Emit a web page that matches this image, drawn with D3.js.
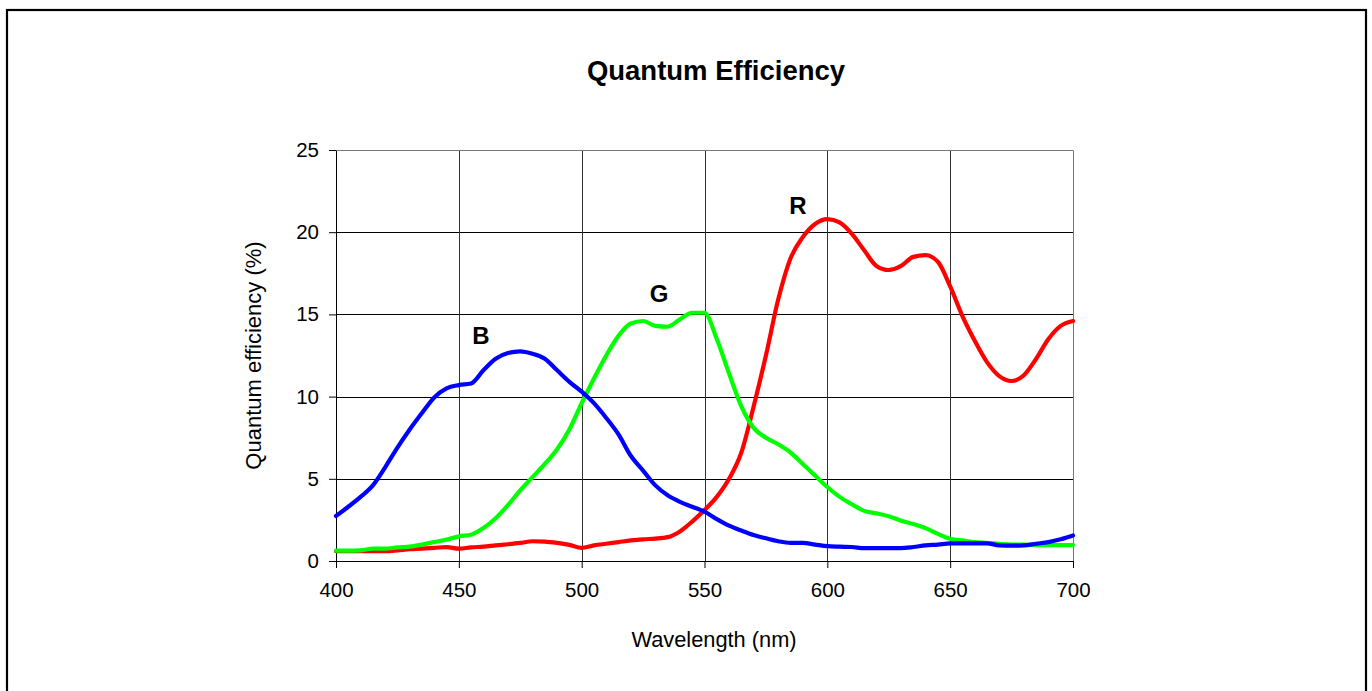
<!DOCTYPE html>
<html>
<head>
<meta charset="utf-8">
<script src="https://cdn.jsdelivr.net/npm/d3@7"></script>
<style>
  body { margin: 0; background: #fff; }
  text { font-family: "Liberation Sans", Arial, sans-serif; fill: #000; }
</style>
</head>
<body>
<div id="chart"></div>
<script>
// wavelength steps (nm)
var wavelengths = d3.range(400, 701, 5);

// quantum efficiency (%) per channel
var blueQE = [2.74, 3.3, 3.9, 4.6, 5.7, 6.9, 8.0, 9.0, 9.95, 10.5,
    10.7, 10.8, 11.6, 12.3, 12.65, 12.75, 12.6, 12.3, 11.6, 10.9,
    10.3, 9.6, 8.7, 7.7, 6.4, 5.5, 4.6, 4.0, 3.6, 3.3,
    3.0, 2.55, 2.15, 1.85, 1.58, 1.38, 1.2, 1.1, 1.1, 1.0,
    0.9, 0.87, 0.85, 0.78, 0.78, 0.78, 0.78, 0.85, 0.95, 1.0,
    1.07, 1.07, 1.07, 1.07, 0.95, 0.93, 0.95, 1.05, 1.15, 1.32, 1.55];

var greenQE = [0.63, 0.63, 0.65, 0.75, 0.75, 0.83, 0.87, 1.0, 1.15, 1.3,
    1.5, 1.6, 2.0, 2.6, 3.4, 4.3, 5.1, 5.9, 6.8, 8.0,
    9.6, 11.1, 12.5, 13.7, 14.45, 14.6, 14.3, 14.25, 14.7, 15.1,
    15.1, 13.5, 11.4, 9.4, 8.1, 7.5, 7.1, 6.6, 5.9, 5.2,
    4.5, 3.9, 3.45, 3.05, 2.9, 2.72, 2.45, 2.25, 2.0, 1.65,
    1.35, 1.25, 1.15, 1.1, 1.05, 1.0, 1.0, 0.97, 0.97, 0.97, 0.97];

var redQE = [0.6, 0.6, 0.6, 0.6, 0.6, 0.65, 0.72, 0.75, 0.8, 0.85,
    0.75, 0.83, 0.87, 0.95, 1.02, 1.1, 1.2, 1.18, 1.1, 0.98,
    0.8, 0.95, 1.05, 1.15, 1.25, 1.32, 1.36, 1.45, 1.8, 2.4,
    3.1, 3.9, 5.0, 6.6, 9.4, 12.5, 15.9, 18.4, 19.7, 20.5,
    20.8, 20.6, 19.9, 18.9, 17.95, 17.7, 17.95, 18.5, 18.6, 18.2,
    16.7, 14.9, 13.4, 12.1, 11.25, 10.95, 11.3, 12.3, 13.5, 14.3, 14.6];

// tick labels
var xTicks = [400, 450, 500, 550, 600, 650, 700];
var yTicks = [0, 5, 10, 15, 20, 25];

// series letters placed in data units
var labelNames = ["B", "G", "R"];
var labelWl = [459, 531.5, 588];
var labelQE = [13.2, 15.75, 21.1];

var svgWidth = 1372;
var svgHeight = 691;

var margin = { top: 150, left: 336, right: 299, bottom: 130 };
var width = svgWidth - margin.left - margin.right;
var height = svgHeight - margin.top - margin.bottom;

var svg = d3.select("#chart")
    .append("svg")
    .attr("width", svgWidth)
    .attr("height", svgHeight);

// outer frame
svg.append("rect")
    .attr("x", 7)
    .attr("y", 10)
    .attr("width", 1359)
    .attr("height", 720)
    .attr("fill", "none")
    .attr("stroke", "#000")
    .attr("stroke-width", 2.2);

var chartGroup = svg.append("g")
    .attr("transform", `translate(${margin.left}, ${margin.top})`);

var xScale = d3.scaleLinear().domain([400, 700]).range([0, width]);
var yScale = d3.scaleLinear().domain([0, 25]).range([height, 0]);

// grid
chartGroup.append("g")
    .selectAll("line")
    .data(yTicks.slice(1, -1))
    .enter()
    .append("line")
    .attr("x1", 0)
    .attr("x2", width)
    .attr("y1", d => Math.round(yScale(d)) + 0.5)
    .attr("y2", d => Math.round(yScale(d)) + 0.5)
    .attr("stroke", "#000");

chartGroup.append("g")
    .selectAll("line")
    .data(xTicks.slice(1, -1))
    .enter()
    .append("line")
    .attr("x1", d => Math.round(xScale(d)) + 0.5)
    .attr("x2", d => Math.round(xScale(d)) + 0.5)
    .attr("y1", 0)
    .attr("y2", height)
    .attr("stroke", "#333");

// top and right frame of plot area
chartGroup.append("path")
    .attr("d", `M0.5,0.5H${width + 0.5}V${height}`)
    .attr("fill", "none")
    .attr("stroke", "#777");

// axes
var xAxis = d3.axisBottom(xScale).tickValues(xTicks).tickSize(7).tickPadding(14).tickSizeOuter(0);
var yAxis = d3.axisLeft(yScale).tickValues(yTicks).tickSize(7).tickPadding(10).tickSizeOuter(0);

var gx = chartGroup.append("g")
    .attr("transform", `translate(0, ${height})`)
    .call(xAxis);

var gy = chartGroup.append("g")
    .call(yAxis);

[gx, gy].forEach(g => {
    g.select(".domain").attr("stroke", "#000");
    g.selectAll(".tick line").attr("stroke", "#000");
    g.selectAll(".tick text")
        .attr("font-size", "20.5px")
        .attr("font-family", "'Liberation Sans', Arial, sans-serif")
        .attr("fill", "#000");
});

// lines: red, green, blue (blue on top)
var series = [
    { values: redQE, color: "#ff0000" },
    { values: greenQE, color: "#00ff00" },
    { values: blueQE, color: "#0000ff" }
];

var line = d3.line()
    .x((d, i) => xScale(wavelengths[i]))
    .y(d => yScale(d))
    .curve(d3.curveMonotoneX);

chartGroup.selectAll(".series")
    .data(series)
    .enter()
    .append("path")
    .attr("class", "series")
    .attr("d", d => line(d.values))
    .attr("fill", "none")
    .attr("stroke", d => d.color)
    .attr("stroke-width", 4.2)
    .attr("stroke-linejoin", "round")
    .attr("stroke-linecap", "round");

// series letters
chartGroup.selectAll(".lbl")
    .data(labelNames)
    .enter()
    .append("text")
    .attr("class", "lbl")
    .attr("x", (d, i) => xScale(labelWl[i]))
    .attr("y", (d, i) => yScale(labelQE[i]))
    .attr("text-anchor", "middle")
    .attr("font-size", "24px")
    .attr("font-weight", "bold")
    .text(d => d);

// titles
svg.append("text")
    .attr("x", 716)
    .attr("y", 80)
    .attr("text-anchor", "middle")
    .attr("font-size", "27.5px")
    .attr("font-weight", "bold")
    .text("Quantum Efficiency");

svg.append("text")
    .attr("x", 714)
    .attr("y", 647)
    .attr("text-anchor", "middle")
    .attr("font-size", "21.8px")
    .text("Wavelength (nm)");

chartGroup.append("text")
    .attr("transform", "rotate(-90)")
    .attr("x", 0 - (height / 2) + 0)
    .attr("y", 0 - margin.left + 261)
    .attr("text-anchor", "middle")
    .attr("font-size", "22px")
    .text("Quantum efficiency (%)");
</script>
</body>
</html>
